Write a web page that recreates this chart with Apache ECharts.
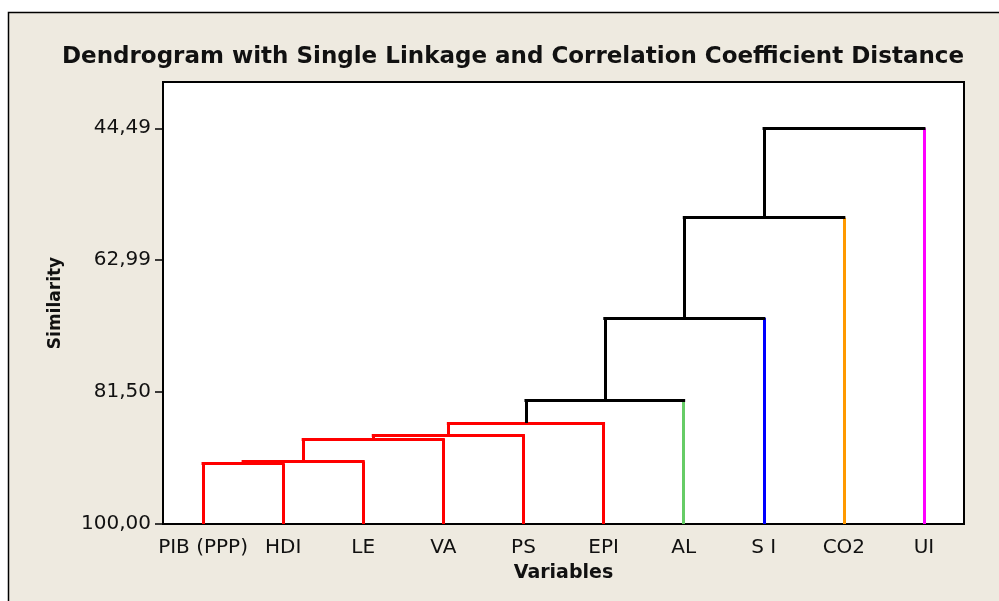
<!DOCTYPE html>
<html>
<head>
<meta charset="utf-8">
<script src="https://cdn.jsdelivr.net/npm/echarts@6/dist/echarts.min.js"></script>
<style>
  html, body { margin: 0; padding: 0; background: #fff; }
  #chart { width: 999px; height: 601px; }
</style>
</head>
<body>
<div id="chart"></div>
<script>
// leaves (left to right) and the colour of the cluster each one belongs to
var variables = ['PIB (PPP)', 'HDI', 'LE', 'VA', 'PS', 'EPI', 'AL', 'S I', 'CO2', 'UI']
var groupColor = ['#ff0000', '#ff0000', '#ff0000', '#ff0000', '#ff0000', '#ff0000', '#66cc66', '#0000ff', '#ff9900', '#ff00ff']

// join steps: ids 0-9 are leaves, step k makes cluster 10 + k
var joinA = [0, 10, 11, 12, 13, 14, 15, 16, 17]
var joinB = [1, 2, 3, 4, 5, 6, 7, 8, 9]
var joinSim = [91.53, 91.25, 88.07, 87.60, 85.82, 82.59, 71.08, 57.04, 44.49]

// similarity ticks
var simTicks = [44.49, 62.99, 81.50, 100.00]

var BLACK = '#000000'
var nodeX = []
var nodeY = []
var nodeColor = []
var segs = []

variables.forEach(function(v, i) {
  nodeX.push(i)
  nodeY.push(100)
  nodeColor.push(groupColor[i])
})

for (var k = 0; k < joinSim.length; k++) {
  var a = joinA[k]
  var b = joinB[k]
  var h = joinSim[k]
  var col = nodeColor[a] === nodeColor[b] && nodeColor[a] !== BLACK ? nodeColor[a] : BLACK
  var upCol = function(c) {
    if (col !== BLACK) return col
    return c < variables.length ? nodeColor[c] : BLACK
  }
  // vertical stems first, then the bar that joins them
  segs.push({ coords: [[nodeX[a], nodeY[a]], [nodeX[a], h]], lineStyle: { color: upCol(a), cap: 'butt' } })
  segs.push({ coords: [[nodeX[b], nodeY[b]], [nodeX[b], h]], lineStyle: { color: upCol(b), cap: 'butt' } })
  segs.push({ coords: [[nodeX[a], h], [nodeX[b], h]], lineStyle: { color: col, cap: 'square' } })
  nodeX.push((nodeX[a] + nodeX[b]) / 2)
  nodeY.push(h)
  nodeColor.push(col)
}

var myChart = echarts.init(document.getElementById('chart'))

var option = {
  backgroundColor: '#ffffff',
  animation: false,
  textStyle: { fontFamily: 'DejaVu Sans' },
  graphic: [{
    type: 'rect',
    z: -10,
    silent: true,
    shape: { x: 8.5, y: 12.5, width: 1200, height: 800 },
    style: { fill: '#eeeae0', stroke: '#000', lineWidth: 1.5 }
  }],
  title: {
    text: 'Dendrogram with Single Linkage and Correlation Coefficient Distance',
    left: 508,
    top: 41,
    textAlign: 'center',
    textStyle: { fontFamily: 'DejaVu Sans', fontWeight: 'bold', fontSize: 23, color: '#111' }
  },
  grid: {
    left: 163,
    right: 35,
    top: 82,
    bottom: 77,
    show: true,
    backgroundColor: '#ffffff',
    borderColor: '#000',
    borderWidth: 2
  },
  xAxis: [{
    type: 'category',
    data: variables,
    name: 'Variables',
    nameLocation: 'middle',
    nameGap: 40,
    nameTextStyle: { fontWeight: 'bold', fontSize: 19, color: '#111', verticalAlign: 'top' },
    axisLine: { onZero: false, lineStyle: { color: '#000', width: 2 } },
    axisTick: { alignWithLabel: true, length: 8, lineStyle: { color: '#000', width: 1.5 } },
    axisLabel: { fontSize: 20, color: '#111', margin: 14, interval: 0 },
    splitLine: { show: false }
  }, {
    type: 'value',
    min: -0.5,
    max: 9.5,
    show: false
  }],
  yAxis: {
    type: 'value',
    min: 38,
    max: 100,
    inverse: true,
    name: 'Similarity',
    nameLocation: 'middle',
    nameGap: 99,
    nameTextStyle: { fontWeight: 'bold', fontSize: 17, color: '#111' },
    axisLine: { show: true, onZero: false, lineStyle: { color: '#000', width: 2 } },
    axisTick: { show: true, length: 8, customValues: simTicks, lineStyle: { color: '#000', width: 1.5 } },
    axisLabel: {
      fontSize: 20,
      color: '#111',
      margin: 12,
      customValues: simTicks,
      formatter: function(v) { return v.toFixed(2).replace('.', ',') }
    },
    splitLine: { show: false }
  },
  series: [{
    type: 'lines',
    coordinateSystem: 'cartesian2d',
    xAxisIndex: 1,
    yAxisIndex: 0,
    polyline: false,
    lineStyle: { width: 3, opacity: 1 },
    data: segs
  }]
}

myChart.setOption(option)
</script>
</body>
</html>
